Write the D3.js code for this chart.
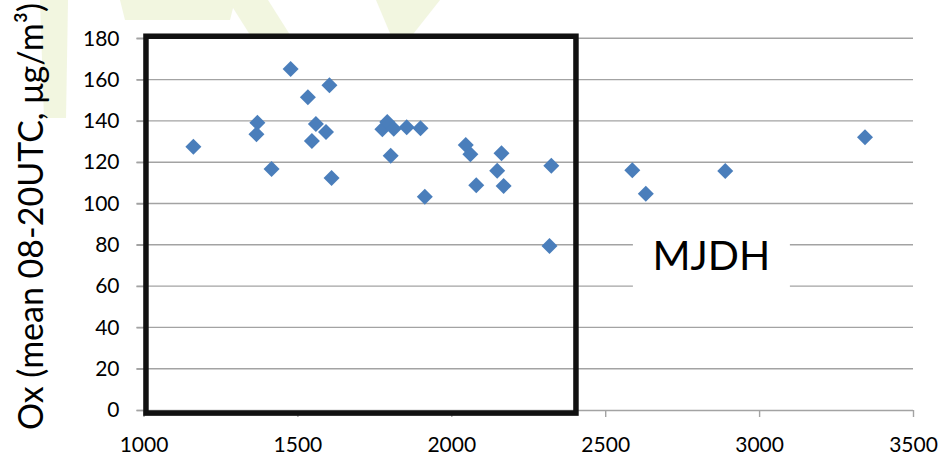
<!DOCTYPE html>
<html>
<head>
<meta charset="utf-8">
<script src="https://cdn.jsdelivr.net/npm/d3@7/dist/d3.min.js"></script>
<style>
  html, body { margin: 0; padding: 0; background: #fff; }
  svg { display: block; }
</style>
</head>
<body>
<svg id="chart" width="941" height="459"></svg>
<script>
// ---- data ----
const xValues = [1162, 1370, 1367, 1416, 1478, 1534, 1604, 1560, 1547, 1593, 1611,
  1776, 1792, 1813, 1855, 1900, 1803, 1914, 2047, 2062, 2163, 2149, 2081, 2170,
  2325, 2319, 2588, 2632, 2890, 3344];
const yValues = [127.5, 139.1, 133.5, 116.7, 165.1, 151.4, 157.3, 138.5, 130.3, 134.6, 112.3,
  135.9, 139.5, 136.2, 136.9, 136.4, 123.1, 103.3, 128.3, 123.8, 124.3, 115.9, 108.8, 108.5,
  118.3, 79.4, 116.1, 104.7, 115.7, 132.1];
const xTicks = [1000, 1500, 2000, 2500, 3000, 3500];
const yTicks = [0, 20, 40, 60, 80, 100, 120, 140, 160, 180];
const xDomain = [1000, 3500];
const yDomain = [0, 180];
const boxX = [1008, 2405];   // highlighted region (data units)
const boxY = [-1.5, 181];
const yTitle = "Ox (mean 08-20UTC, \u03bcg/m\u00b3)";
const boxLabel = "MJDH";
const labelX = [2590, 3100]; // label area in data units
const labelY = [44, 96];

// ---- layout ----
const svg = d3.select("#chart");
const x = d3.scaleLinear().domain(xDomain).range([143.5, 913]);
const y = d3.scaleLinear().domain(yDomain).range([410, 38.3]);
const font = "Lato, 'Open Sans', sans-serif";

// faint watermark in background
const wm = svg.append("g").attr("fill", "#dfe9b4").attr("opacity", 0.4);
wm.append("path").attr("d", "M40,0 L68,0 L66,118 L44,118 Z");
wm.append("path").attr("d", "M120,0 L235,0 L230,20 L125,20 Z");
wm.append("path").attr("d", "M228,0 L268,0 L292,38 L252,38 Z");
wm.append("path").attr("d", "M376,0 L440,0 L410,38 L392,38 Z");

// plot area white
svg.append("rect")
  .attr("x", x(xDomain[0])).attr("y", y(yDomain[1]))
  .attr("width", x(xDomain[1]) - x(xDomain[0]))
  .attr("height", y(yDomain[0]) - y(yDomain[1]))
  .attr("fill", "#fff");

// gridlines
svg.append("g").selectAll("line").data(yTicks.filter(d => d > 0)).join("line")
  .attr("x1", x(xDomain[0]) - 7).attr("x2", x(xDomain[1]))
  .attr("y1", d => y(d)).attr("y2", d => y(d))
  .attr("stroke", "#a3a3a3").attr("stroke-width", 1.4);

// y axis (labels + stubs)
const yAxis = svg.append("g")
  .attr("transform", `translate(${x(xDomain[0])},0)`)
  .call(d3.axisLeft(y).tickValues(yTicks).tickSize(7).tickPadding(17).tickFormat(d3.format("d")));
yAxis.select(".domain").remove();
yAxis.selectAll(".tick line").attr("stroke", "#a3a3a3").attr("stroke-width", 1.4);
yAxis.selectAll("text").attr("font-family", font).attr("font-size", 21).attr("fill", "#000");

// x axis
const xAxis = svg.append("g")
  .attr("transform", `translate(0,${y(0)})`)
  .call(d3.axisBottom(x).tickValues(xTicks).tickSize(7).tickPadding(20).tickSizeOuter(0).tickFormat(d3.format("d")));
xAxis.select(".domain").attr("stroke", "#a3a3a3").attr("stroke-width", 1.4)
  .attr("d", `M${x(xDomain[0]) - 7},0.5H${x(xDomain[1])}`);
xAxis.selectAll(".tick line").attr("stroke", "#a3a3a3").attr("stroke-width", 1.4);
xAxis.selectAll("text").attr("font-family", font).attr("font-size", 21).attr("fill", "#000");

// label box
svg.append("rect")
  .attr("x", x(labelX[0])).attr("y", y(labelY[1]))
  .attr("width", x(labelX[1]) - x(labelX[0]))
  .attr("height", y(labelY[0]) - y(labelY[1]))
  .attr("fill", "#fff");
svg.append("text")
  .attr("x", (x(labelX[0]) + x(labelX[1])) / 2)
  .attr("y", y(60) - 16)
  .attr("text-anchor", "middle")
  .attr("font-family", font).attr("font-size", 41).attr("fill", "#000")
  .text(boxLabel);

// highlight rectangle
svg.append("rect")
  .attr("x", x(boxX[0])).attr("y", y(boxY[1]))
  .attr("width", x(boxX[1]) - x(boxX[0]))
  .attr("height", y(boxY[0]) - y(boxY[1]))
  .attr("fill", "none").attr("stroke", "#111").attr("stroke-width", 5.5);

// points
const pts = xValues.map((v, i) => ({ x: v, y: yValues[i] }));
svg.append("g").selectAll("path").data(pts).join("path")
  .attr("transform", d => `translate(${x(d.x)},${y(d.y)})`)
  .attr("d", "M0,-8L8,0L0,8L-8,0Z")
  .attr("fill", "#4a7ebb");

// y title
svg.append("text")
  .attr("transform", "translate(43,430) rotate(-90)")
  .attr("text-anchor", "start")
  .attr("font-family", font).attr("font-size", 34).attr("fill", "#000")
  .text(yTitle);
</script>
</body>
</html>
